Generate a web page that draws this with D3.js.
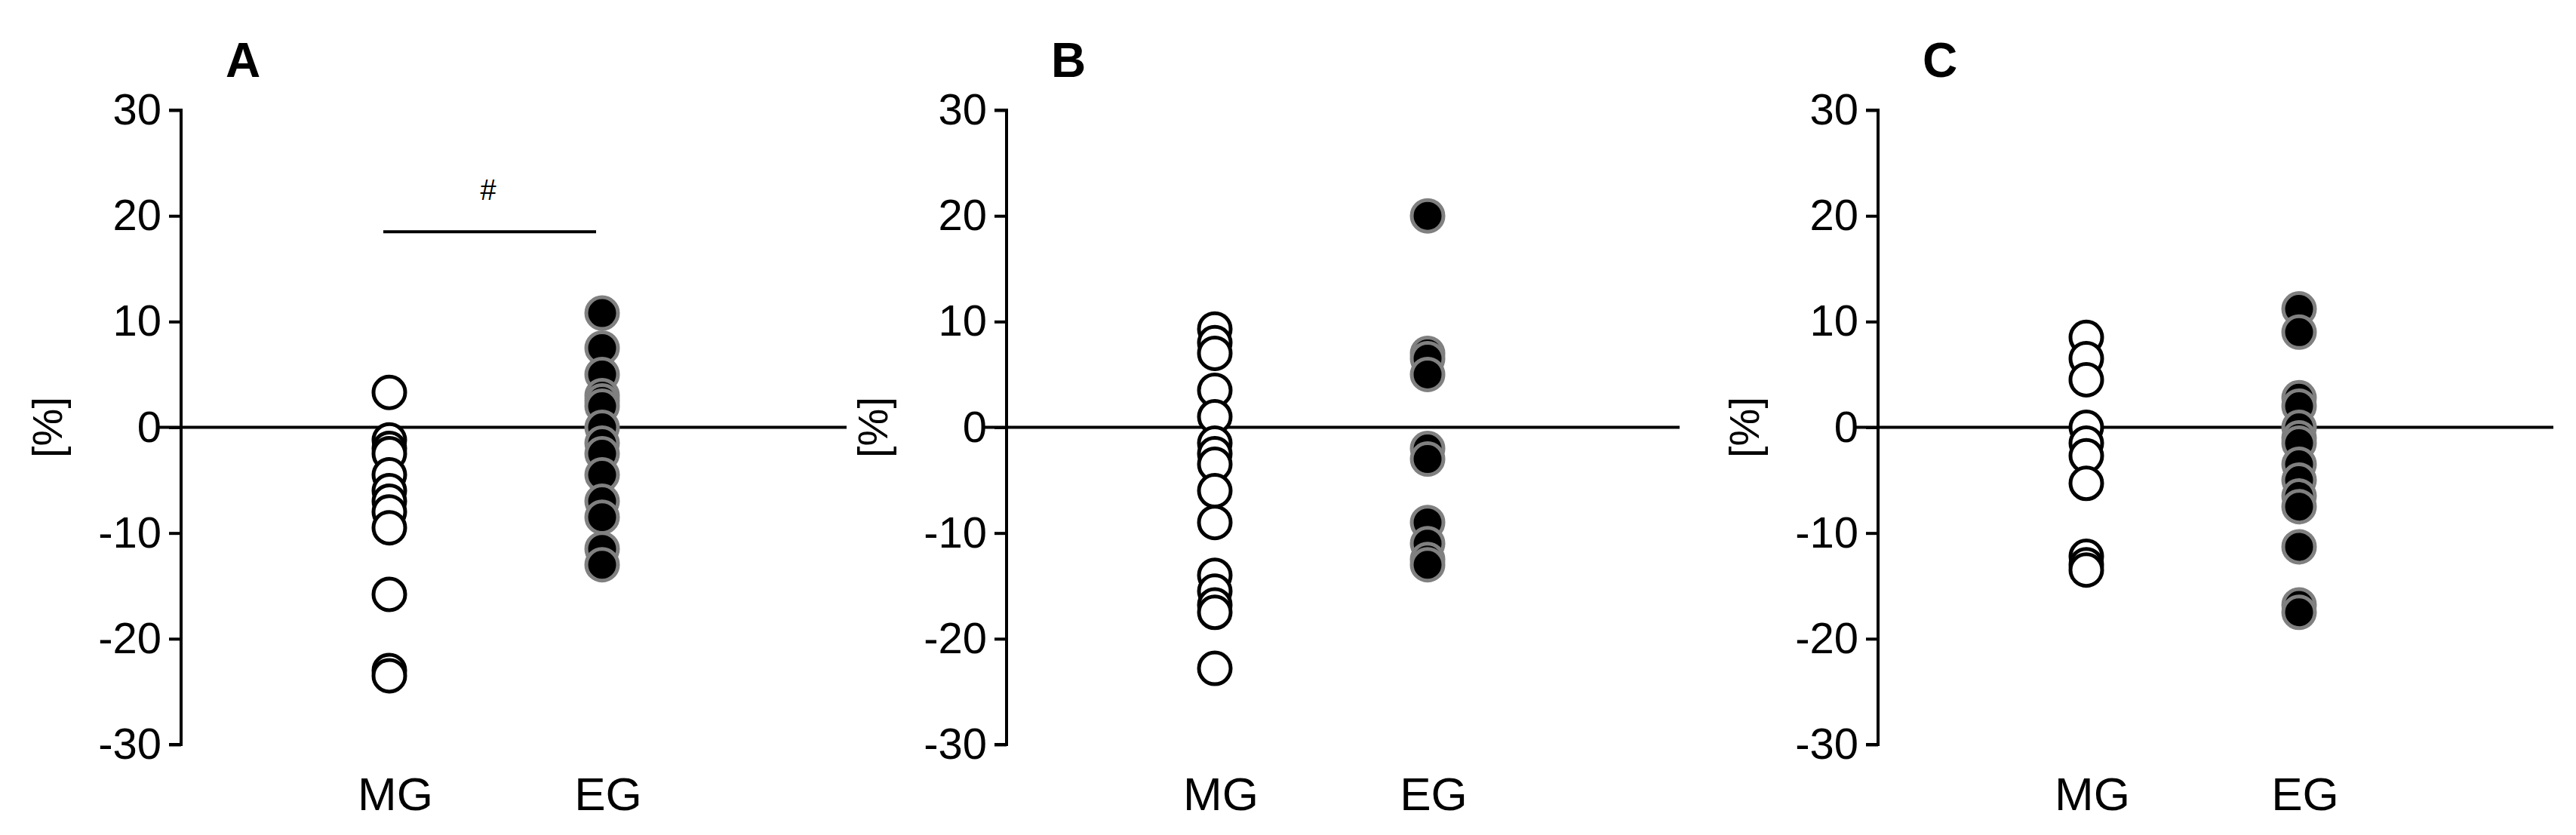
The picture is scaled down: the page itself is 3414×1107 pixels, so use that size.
<!DOCTYPE html>
<html><head><meta charset="utf-8">
<script src="https://cdn.jsdelivr.net/npm/d3@7"></script>
<style>body{margin:0;background:#fff}</style></head>
<body><svg id="c" width="3414" height="1107"></svg>
<script>
const panels = ["A","B","C"];
const groups = ["MG","EG"];
const yTicks = [-30,-20,-10,0,10,20,30];
const mgA = [3.3,-1.2,-2,-2.5,-4.5,-6,-7,-8,-9.5,-15.8,-23,-23.5];
const egA = [10.8,7.5,5,3,2.5,2,0,-1.5,-2.5,-4.5,-7,-8.5,-11.5,-13];
const mgB = [9.3,8,7,3.5,1,-1.5,-2.5,-3.5,-6,-9,-14,-15.5,-16.8,-17.5,-22.8];
const egB = [20,7,6.5,5,-2,-3,-9,-11,-12.5,-13];
const mgC = [8.5,6.5,4.5,0,-1.5,-2.7,-5.3,-12.2,-13,-13.5];
const egC = [11.2,9,2.8,2,0,-1,-1.5,-3.5,-5,-6.5,-7.5,-11.3,-16.8,-17.5];
const sigA = {y:18.5, label:"#"};

const data = [[mgA,egA],[mgB,egB],[mgC,egC]];
const axisX = [240,1334,2489];
const zeroEnd = [1122,2226,3384];
const svg = d3.select("#c");
const font = "Arial, 'Liberation Sans', sans-serif";
const y = d3.scaleLinear().domain([-30,30]).range([987,146]);

panels.forEach((p,i)=>{
  const ax = axisX[i];
  const g = svg.append("g");
  const x = d3.scalePoint().domain(groups).range([ax+276, ax+558]);
  const yAxis = d3.axisLeft(y).tickValues(yTicks).tickSize(16).tickPadding(10).tickFormat(d=>String(d));
  const ga = g.append("g").attr("transform",`translate(${ax},0)`).call(yAxis);
  ga.select(".domain").attr("stroke","#000").attr("stroke-width",4).attr("d",`M-16,${y(30)}H0V${y(-30)}H-16`);
  ga.selectAll(".tick line").attr("stroke","#000").attr("stroke-width",4);
  ga.selectAll(".tick text").attr("font-family",font).attr("font-size",58).attr("fill","#000");
  g.append("line").attr("x1",ax-30).attr("x2",zeroEnd[i]).attr("y1",y(0)).attr("y2",y(0))
    .attr("stroke","#000").attr("stroke-width",4);
  groups.forEach(gr=>{
    g.append("text").attr("x",x(gr)+8).attr("y",1074).attr("text-anchor","middle")
      .attr("font-family",font).attr("font-size",62).text(gr);
  });
  g.append("text").attr("transform",`translate(${ax-158},${y(0)}) rotate(-90)`)
    .attr("text-anchor","middle").attr("font-family",font).attr("font-size",56).text("[%]");
  g.append("text").attr("x",ax+82).attr("y",102).attr("text-anchor","middle")
    .attr("font-family",font).attr("font-weight","bold").attr("font-size",64).text(p);
  g.selectAll("circle.mg").data(data[i][0]).enter().append("circle")
    .attr("cx",x("MG")).attr("cy",d=>y(d)).attr("r",21)
    .attr("fill","#fff").attr("stroke","#000").attr("stroke-width",5);
  g.selectAll("circle.eg").data(data[i][1]).enter().append("circle")
    .attr("cx",x("EG")).attr("cy",d=>y(d)).attr("r",21)
    .attr("fill","#000").attr("stroke","#808080").attr("stroke-width",5);
  if(p==="A"){
    g.append("line").attr("x1",x("MG")-8).attr("x2",x("EG")-8).attr("y1",y(sigA.y)).attr("y2",y(sigA.y))
      .attr("stroke","#000").attr("stroke-width",4);
    g.append("text").attr("x",(x("MG")+x("EG"))/2-10).attr("y",y(sigA.y)-42).attr("text-anchor","middle")
      .attr("font-family",font).attr("font-size",38).text(sigA.label);
  }
});
</script></body></html>
